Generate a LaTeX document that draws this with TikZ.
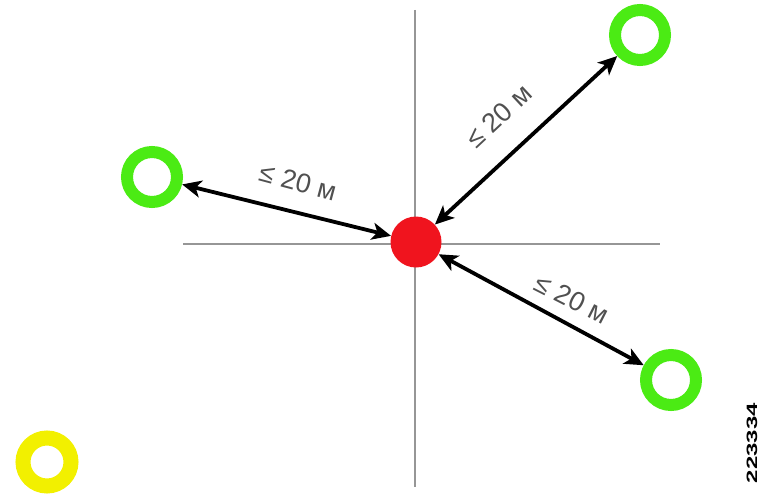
\documentclass[tikz,border=0pt]{standalone}
\usepackage{fontspec}
\setmainfont{Liberation Sans}
\usetikzlibrary{arrows.meta}
\definecolor{ringgreen}{RGB}{75,235,20}
\definecolor{ringyellow}{RGB}{242,240,0}
\definecolor{dotred}{RGB}{240,20,30}
\definecolor{axisgray}{RGB}{150,150,150}
\definecolor{labgray}{RGB}{80,80,80}
\begin{document}
\begin{tikzpicture}[x=1pt,y=-1pt,
  greenring/.style={circle,draw=ringgreen,line width=12pt,minimum size=50pt,inner sep=0pt},
  yellowring/.style={circle,draw=ringyellow,line width=15pt,minimum size=48pt,inner sep=0pt},
  reddot/.style={circle,fill=dotred,minimum size=51pt,inner sep=0pt},
  axis/.style={draw=axisgray,line width=1.5pt},
  dist/.style={line width=3.8pt,{Stealth[length=19pt,width=17pt,inset=5pt]}-{Stealth[length=19pt,width=17pt,inset=5pt]}},
  lab/.style={text=labgray,font=\fontsize{27}{27}\selectfont,inner sep=0pt}]
\useasboundingbox (0,0) rectangle (765,495);
\coordinate (vt) at (415,10);
\coordinate (vb) at (415,487);
\coordinate (hl) at (183,244);
\coordinate (hr) at (660,244);
\draw[axis] (vt) -- (vb);
\draw[axis] (hl) -- (hr);
\node[reddot] (c) at (416,242) {};
\node[greenring] (gl) at (152,177) {};
\node[greenring] (gtr) at (640,35) {};
\node[greenring] (gbr) at (671,380) {};
\node[yellowring] (y) at (47,462) {};
\draw[dist] (gl) -- (c);
\draw[dist] (gtr) -- (c);
\draw[dist] (gbr) -- (c);
\node[lab,rotate=-15] (l1) at (298,182) {≤ 20 м};
\node[lab,rotate=43] (l2) at (499,116) {≤ 20 м};
\node[lab,rotate=-27] (l3) at (572,299) {≤ 20 м};
\node[rotate=90,inner sep=0pt,font=\fontsize{15}{15}\selectfont\bfseries] (id) at (752,443) {\scalebox{1.6}[1]{223334}};
\end{tikzpicture}
\end{document}
